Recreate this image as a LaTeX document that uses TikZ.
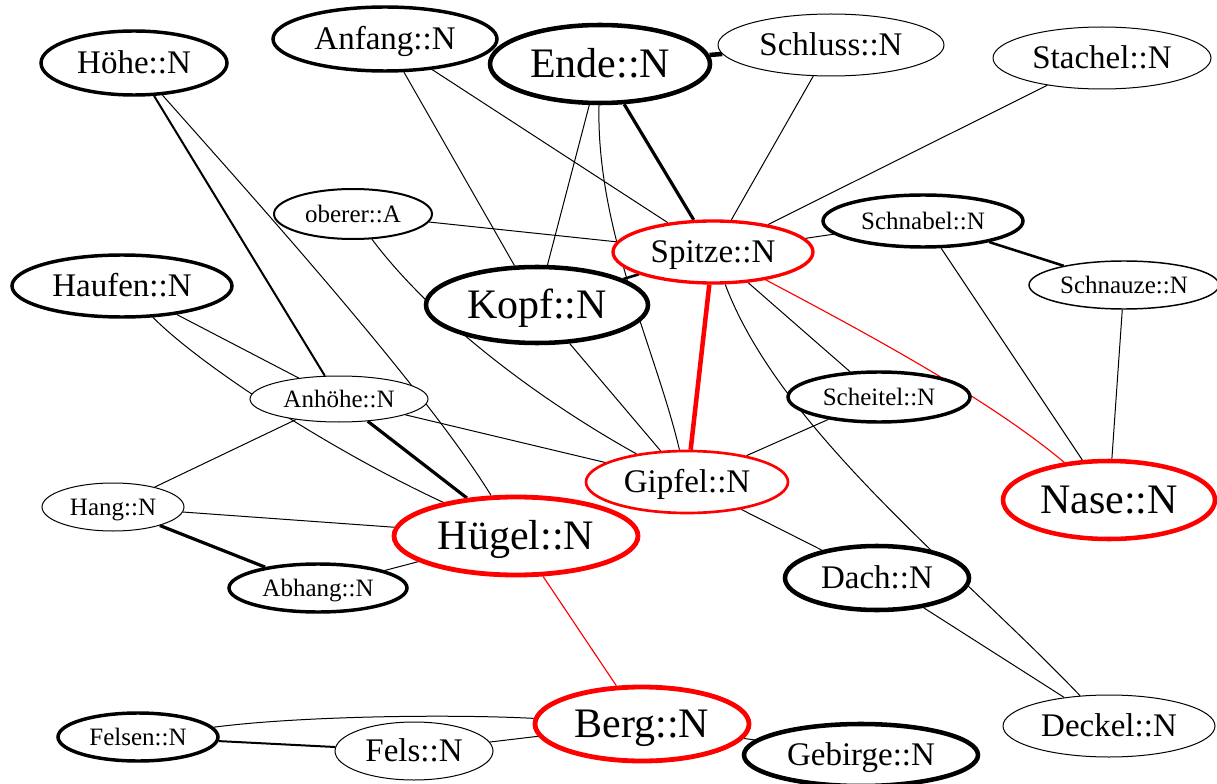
\documentclass[tikz,border=0pt]{standalone}
\usepackage{fontspec}
\setmainfont{Liberation Serif}
\usetikzlibrary{shapes.geometric}
\pgfdeclarelayer{edges}
\pgfsetlayers{edges,main}
\definecolor{hired}{RGB}{255,0,0}
\newcommand\fsmall{\fontsize{18.75pt}{20pt}\selectfont}
\newcommand\fmed{\fontsize{24.75pt}{26pt}\selectfont}
\newcommand\flarge{\fontsize{31.5pt}{33pt}\selectfont}
\tikzset{
  word/.style={ellipse, draw, fill=white, inner sep=0pt},
  sz/.style 2 args={minimum width=#1*1.5pt-1.5pt, minimum height=#2*1.5pt-1.5pt},
  bd1/.style={line width=0.75pt},
  bdq/.style={line width=1.1pt},
  bd2/.style={line width=1.5pt},
  bd3/.style={line width=2.6pt},
  bd4/.style={line width=3.4pt},
  sm/.style={font=\fsmall, text height=13.5pt, text depth=1.1pt},
  md/.style={font=\fmed, text height=17.8pt, text depth=1.5pt},
  lg/.style={font=\flarge, text height=22.7pt, text depth=1.9pt},
  hot/.style={draw=hired},
  ln1/.style={line width=0.75pt},
  ln2/.style={line width=1.5pt},
  ln25/.style={line width=1.9pt},
  ln3/.style={line width=2.4pt},
  ln4/.style={line width=3.4pt},
  lnred/.style={draw=hired, line width=0.85pt},
  lnredb/.style={draw=hired, line width=3.4pt}
}
\begin{document}
\begin{tikzpicture}[x=0.75pt,y=-0.75pt]
\useasboundingbox (0,0) rectangle (1217,784);

% word nodes
\node[word, bd3, md, sz={94}{33}]  (hoehe)    at (134,63)   {Höhe::N};
\node[word, bd3, md, sz={113}{33}] (anfang)   at (385,39)   {Anfang::N};
\node[word, bd4, lg, sz={111}{40}] (ende)     at (600,64)   {Ende::N};
\node[word, bd1, md, sz={114}{32}] (schluss)  at (831,45)   {Schluss::N};
\node[word, bd1, md, sz={110}{32}] (stachel)  at (1102,58)  {Stachel::N};
\node[word, bd2, sm, sz={80}{26}]  (oberer)   at (353,214)  {oberer::A};
\node[word, bd3, md, hot, line width=2.5pt, sz={101}{32}] (spitze) at (713,252) {Spitze::N};
\node[word, bd3, sm, sz={101}{27}] (schnabel) at (923,221)  {Schnabel::N};
\node[word, bd3, md, sz={111}{32}] (haufen)   at (122,286)  {Haufen::N};
\node[word, bd4, lg, sz={112}{39}] (kopf)     at (537,305)  {Kopf::N};
\node[word, bdq, sm, sz={96}{25}]  (schnauze) at (1124,285) {Schnauze::N};
\node[word, bd1, sm, sz={90}{24}]  (anhoehe)  at (339,399)  {Anhöhe::N};
\node[word, bd3, sm, sz={92}{26}]  (scheitel) at (879,397)  {Scheitel::N};
\node[word, md, hot, line width=2pt, sz={102}{32}] (gipfel) at (687,482) {Gipfel::N};
\node[word, bd4, lg, hot, sz={107}{40}] (nase) at (1109,500) {Nase::N};
\node[word, bd1, sm, sz={72}{25}]  (hang)     at (113,507)  {Hang::N};
\node[word, lg, hot, line width=3.6pt, sz={123}{40}] (huegel) at (516,536) {Hügel::N};
\node[word, bd3, sm, sz={90}{25}]  (abhang)   at (318,588)  {Abhang::N};
\node[word, bd4, md, sz={93}{33}]  (dach)     at (877,578)  {Dach::N};
\node[word, lg, hot, line width=3.6pt, sz={108}{38}] (berg) at (642,724) {Berg::N};
\node[word, bd3, sm, sz={81}{25}]  (felsen)   at (138,737)  {Felsen::N};
\node[word, bd1, md, sz={80}{30}]  (fels)     at (414,751)  {Fels::N};
\node[word, bd4, md, sz={118}{32}] (gebirge)  at (861,755)  {Gebirge::N};
\node[word, bd1, md, sz={107}{32}] (deckel)   at (1109,726) {Deckel::N};

% relations, drawn beneath the words
\begin{pgfonlayer}{edges}
  % plain links
  \draw[ln1] (anfang) -- (kopf);
  \draw[ln1] (anfang) -- (spitze);
  \draw[ln1] (ende) -- (kopf);
  \draw[ln1] (schluss) -- (spitze);
  \draw[ln1] (stachel) -- (spitze);
  \draw[ln1] (oberer) -- (spitze);
  \draw[ln1] (spitze) -- (schnabel);
  \draw[ln1] (spitze) -- (scheitel);
  \draw[ln1] (schnabel) -- (nase);
  \draw[ln1] (schnauze) -- (nase);
  \draw[ln1] (haufen) -- (anhoehe);
  \draw[ln1] (anhoehe) -- (hang);
  \draw[ln1] (anhoehe) -- (gipfel);
  \draw[ln1] (kopf) -- (gipfel);
  \draw[ln1] (gipfel) -- (scheitel);
  \draw[ln1] (gipfel) -- (dach);
  \draw[ln1] (hang) -- (huegel);
  \draw[ln1] (abhang) -- (huegel);
  \draw[ln1] (berg) -- (fels);
  \draw[ln1] (berg) -- (gebirge);
  \draw[ln1] (dach) -- (deckel);
  % curved plain links
  \draw[ln1] (hoehe) .. controls (250,194) and (425,388) .. (huegel);
  \draw[ln1] (ende) .. controls (596,230) and (656,350) .. (gipfel);
  \draw[ln1] (oberer) .. controls (431,318) and (536,398) .. (gipfel);
  \draw[ln1] (haufen) .. controls (200,365) and (330,450) .. (huegel);
  \draw[ln1] (spitze) .. controls (780,430) and (960,570) .. (deckel);
  \draw[ln1] (felsen) .. controls (300,716) and (450,714) .. (berg);
  % heavier links
  \draw[ln2] (hoehe) -- (anhoehe);
  \draw[ln2] (felsen) -- (fels);
  \draw[ln4] (ende) -- (schluss);
  \draw[ln3] (ende) -- (spitze);
  \draw[ln25] (kopf) -- (spitze);
  \draw[ln25] (schnabel) -- (schnauze);
  \draw[ln3] (anhoehe) -- (huegel);
  \draw[ln3] (hang) -- (abhang);
  % highlighted links
  \draw[lnredb] (spitze) -- (gipfel);
  \draw[lnred] (spitze) .. controls (870,335) and (990,400) .. (nase);
  \draw[lnred] (huegel) -- (berg);
\end{pgfonlayer}
\end{tikzpicture}
\end{document}
